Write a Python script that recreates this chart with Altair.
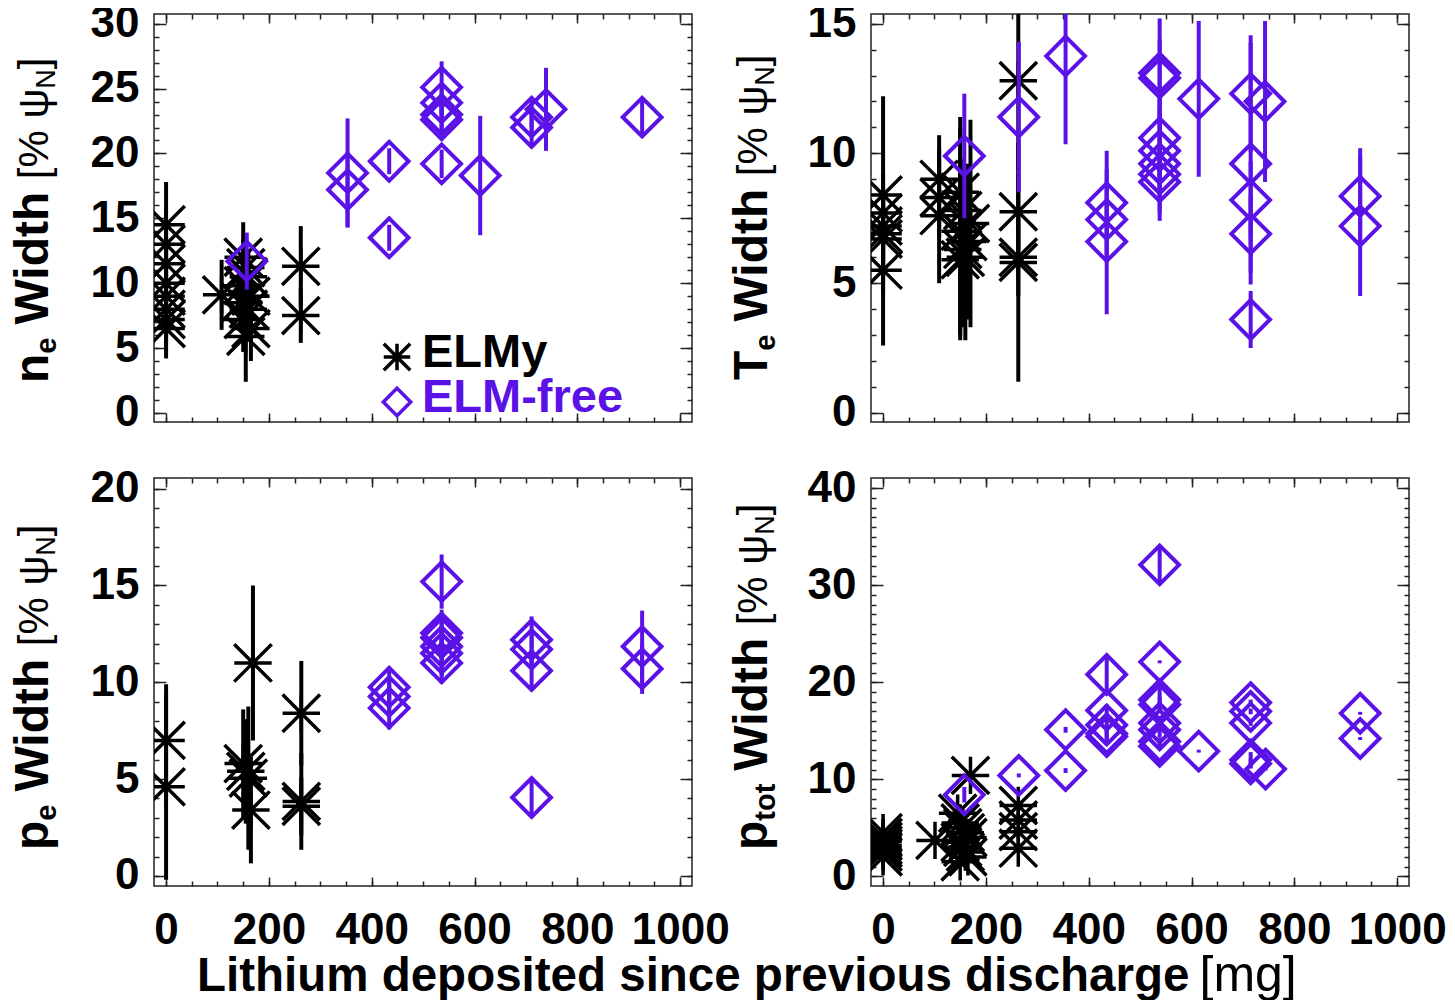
import altair as alt
import pandas as pd

PURPLE = "#5A12E6"
FONT = "Liberation Sans"
AST = "M-1,0L1,0M0,-1L0,1M-1,-1L1,1M-1,1L1,-1"
DIA = "M-1,0L0,-1L1,0L0,1Z"

X_DOMAIN = [-23.5, 1023]
X_MAJOR = [0, 200, 400, 600, 800, 1000]
X_MINOR = list(range(0, 1001, 50))

# ---------------- n_e width ----------------
ne_elmy_x = [0, 0, 0, 0, 0, 0, 0, 0, 108, 145, 150, 150, 155, 160, 160, 165, 150, 165, 155, 262, 262]
ne_elmy_y = [14.5, 13.0, 11.5, 10.0, 9.0, 8.0, 7.2, 6.5, 9.1, 8.5, 12.0, 9.8, 11.2, 10.5, 8.0, 9.0, 7.2, 6.5, 5.9, 11.3, 7.5]
ne_elmy_e = [3.3, 2.0, 2.0, 1.5, 2.0, 2.0, 2.0, 2.3, 2.7, 2.0, 2.7, 2.5, 2.5, 2.0, 2.5, 2.0, 2.5, 2.5, 3.5, 3.1, 2.1]
ne_free_x = [353, 353, 434, 434, 157, 536, 536, 536, 536, 536, 611, 711, 711, 739, 926]
ne_free_y = [18.5, 17.2, 19.4, 13.5, 11.7, 25.1, 23.9, 23.0, 22.6, 19.2, 18.3, 22.8, 22.0, 23.4, 22.8]
ne_free_e = [4.2, 2.9, 1.0, 1.0, 2.2, 2.0, 1.5, 1.2, 1.2, 1.1, 4.6, 1.4, 1.5, 3.2, 1.5]

# ---------------- T_e width ----------------
te_elmy_x = [0, 0, 0, 0, 0, 0, 109, 109, 109, 150, 155, 170, 150, 165, 155, 160, 150, 263, 263, 263, 263]
te_elmy_y = [8.4, 7.7, 7.2, 6.9, 6.7, 5.5, 9.0, 8.3, 7.6, 8.5, 7.8, 7.3, 7.0, 6.6, 6.3, 6.0, 5.9, 12.8, 7.75, 6.0, 5.8]
te_elmy_e = [3.8, 1.5, 1.5, 1.5, 1.5, 2.9, 1.7, 1.5, 2.6, 2.9, 2.0, 4.0, 4.0, 3.0, 3.0, 3.2, 3.1, 3.5, 1.5, 1.5, 4.6]
te_free_x = [158, 264, 355, 435, 435, 435, 538, 538, 538, 538, 538, 538, 538, 614, 715, 715, 715, 715, 715, 743, 928, 928]
te_free_y = [9.9, 11.4, 13.75, 8.1, 7.45, 6.6, 13.1, 12.9, 10.6, 10.1, 9.6, 9.2, 8.9, 12.1, 12.3, 9.6, 8.2, 6.9, 3.6, 12.0, 8.35, 7.2]
te_free_e = [2.4, 2.9, 3.4, 2.0, 1.5, 2.8, 2.1, 1.5, 1.5, 1.6, 1.5, 1.5, 1.5, 3.0, 2.25, 4.65, 1.5, 1.5, 1.1, 3.1, 1.85, 2.7]

# ---------------- p_e width ----------------
pe_elmy_x = [0, 0, 150, 155, 160, 165, 169, 263, 263, 263]
pe_elmy_y = [7.0, 4.6, 5.8, 5.4, 5.05, 3.4, 11.0, 8.4, 3.85, 3.6]
pe_elmy_e = [2.9, 4.8, 2.8, 2.7, 3.7, 2.75, 4.0, 2.7, 2.5, 1.5]
pe_free_x = [434, 434, 434, 536, 536, 536, 536, 536, 536, 711, 711, 711, 711, 926, 926]
pe_free_y = [9.75, 9.27, 8.67, 15.2, 12.55, 12.3, 11.85, 11.5, 11.0, 12.2, 11.7, 10.6, 4.05, 11.85, 10.7]
pe_free_e = [0.85, 0.9, 1.1, 1.4, 1.2, 1.0, 1.0, 1.2, 1.05, 1.2, 1.0, 0.9, 1.05, 1.85, 1.3]

# ---------------- p_tot width ----------------
pt_elmy_x = [0, 0, 0, 0, 0, 0, 0, 101, 145, 150, 155, 160, 165, 150, 155, 160, 165, 150, 170, 263, 263, 263, 263]
pt_elmy_y = [4.5, 4.0, 3.6, 3.2, 2.9, 2.5, 2.0, 3.7, 6.5, 5.5, 5.0, 4.5, 4.0, 3.5, 3.0, 2.5, 2.0, 1.5, 10.4, 7.3, 5.8, 4.6, 2.9]
pt_elmy_e = [0.3] * 23
pt_free_x = [158, 264, 355, 355, 435, 435, 435, 435, 435, 538, 538, 538, 538, 538, 538, 538, 538, 614, 715, 715, 715, 715, 715, 744, 928, 928]
pt_free_y = [8.4, 10.4, 15.1, 10.9, 20.8, 17.1, 15.6, 14.7, 14.4, 32.1, 22.1, 18.2, 17.7, 15.8, 15.1, 13.9, 13.4, 12.9, 17.9, 17.0, 15.8, 12.0, 11.6, 11.05, 16.8, 14.2]
pt_free_e = [0.8, 0.2, 0.3, 0.25, 1.8, 0.6, 0.8, 0.8, 0.6, 1.9, 0.15, 1.2, 0.8, 0.5, 0.8, 0.4, 0.3, 0.15, 0.3, 0.3, 0.3, 0.8, 0.5, 0.15, 0.15, 0.15]

BOLD_W = {' ': 0.278, 'n': 0.611, 'e': 0.556, 'W': 0.944, 'i': 0.278, 'd': 0.611, 't': 0.333,
          'h': 0.611, 'T': 0.611, 'p': 0.611, 'o': 0.611, 'L': 0.611, 'u': 0.611, 'm': 0.889,
          's': 0.556, 'c': 0.556, 'r': 0.389, 'v': 0.556, 'a': 0.556, 'g': 0.611}
REG_W = {' ': 0.278, '[': 0.278, '%': 0.889, 'ψ': 0.71, 'N': 0.722, ']': 0.278, 'm': 0.833, 'g': 0.556}


def text_width(txt, size, weight):
    table = BOLD_W if weight == "bold" else REG_W
    return sum(table.get(c, 0.6) for c in txt) * size


def axis(orient, values, L, labels=False, pad=0):
    return alt.Axis(orient=orient, values=values, tickSize=L, offset=-L, domain=False, grid=False,
                    ticks=True, labels=labels, title=None, tickColor="#222", tickWidth=1.5,
                    labelFont=FONT, labelFontSize=44, labelFontWeight="bold", labelColor="black",
                    labelPadding=pad, labelFlush=False, labelOverlap=False, format="d")


def frame(d):
    return pd.DataFrame({"x": d[0], "y": d[1],
                         "lo": [a - b for a, b in zip(d[1], d[2])],
                         "hi": [a + b for a, b in zip(d[1], d[2])]})


def text_layer(txt, size, weight, x, y, color="black", angle=0):
    return alt.Chart(pd.DataFrame({"t": [txt]})).mark_text(
        angle=angle, align="left", baseline="alphabetic", font=FONT, fontSize=size,
        fontWeight=weight, color=color).encode(text="t:N", x=alt.value(x), y=alt.value(y))


def vtitle(pieces, bx, y0):
    layers = []
    pos = y0
    for txt, size, weight, shift, gap in pieces:
        pos -= gap
        layers.append(text_layer(txt, size, weight, bx + shift, pos, angle=270))
        pos -= text_width(txt, size, weight)
    return layers


def title_pieces(main, sub):
    return [(main, 48, "bold", 0, 0),
            (sub, 29, "bold", 8, 0),
            ("Width", 48, "bold", 0, 13),
            ("[% ψ", 42, "normal", 0, 12),
            ("N", 27, "normal", 7, 0),
            ("]", 42, "normal", 0, 0)]


def panel(elmy, free, ydom, ymaj, ymin, xlabels, extra):
    de, df = frame(elmy), frame(free)
    xs = alt.Scale(domain=X_DOMAIN, nice=False, zero=False)
    ys = alt.Scale(domain=ydom, nice=False, zero=False)
    bars_e = alt.Chart(de).mark_rule(color="black", strokeWidth=4, clip=True).encode(
        x=alt.X("x:Q", scale=xs, axis=axis("bottom", X_MAJOR, 9, xlabels, 22)),
        y=alt.Y("lo:Q", scale=ys, axis=axis("left", ymaj, 12, True, 15)),
        y2="hi:Q")
    pts_e = alt.Chart(de).mark_point(shape=AST, size=1400, strokeWidth=3.5, filled=False,
                                     color="black", opacity=1, clip=True).encode(
        x=alt.X("x:Q", scale=xs, axis=axis("bottom", X_MINOR, 5)),
        y=alt.Y("y:Q", scale=ys, axis=axis("left", ymin, 5)))
    bars_f = alt.Chart(df).mark_rule(color=PURPLE, strokeWidth=4, clip=True).encode(
        x=alt.X("x:Q", scale=xs, axis=axis("top", X_MAJOR, 9)),
        y=alt.Y("lo:Q", scale=ys, axis=axis("right", ymaj, 12)),
        y2="hi:Q")
    pts_f = alt.Chart(df).mark_point(shape=DIA, size=1500, strokeWidth=4, filled=False,
                                     color=PURPLE, opacity=1, clip=True).encode(
        x=alt.X("x:Q", scale=xs, axis=axis("top", X_MINOR, 5)),
        y=alt.Y("y:Q", scale=ys, axis=axis("right", ymin, 5)))
    return alt.layer(bars_e, pts_e, bars_f, pts_f, *extra).resolve_axis(
        x="independent", y="independent").properties(width=538, height=408)


legend = [
    alt.Chart(pd.DataFrame({"k": ["ELMy"]})).mark_point(shape=AST, size=700, strokeWidth=3.5, filled=False,
                                                         color="black", opacity=1).encode(
        x=alt.value(243), y=alt.value(343)),
    alt.Chart(pd.DataFrame({"k": ["ELM-free"]})).mark_point(shape=DIA, size=750, strokeWidth=3.5, filled=False,
                                                             color=PURPLE, opacity=1).encode(
        x=alt.value(243), y=alt.value(388)),
    text_layer("ELMy", 47, "bold", 268, 353),
    text_layer("ELM-free", 47, "bold", 268, 398, color=PURPLE),
]

xt_bold = "Lithium deposited since previous discharge"
xt_w = text_width(xt_bold, 47.5, "bold")
xtitle = [text_layer(xt_bold, 47.5, "bold", 43, 513),
          text_layer("[mg]", 50, "normal", 43 + xt_w + 10, 513)]

p1 = panel((ne_elmy_x, ne_elmy_y, ne_elmy_e), (ne_free_x, ne_free_y, ne_free_e),
           [-0.7, 30.75], list(range(0, 31, 5)), list(range(0, 31)), False,
           vtitle(title_pieces("n", "e"), -106, 369) + legend)
p2 = panel((te_elmy_x, te_elmy_y, te_elmy_e), (te_free_x, te_free_y, te_free_e),
           [-0.35, 15.37], list(range(0, 16, 5)), list(range(0, 16)), False,
           vtitle(title_pieces("T", "e"), -104, 366))
p3 = panel((pe_elmy_x, pe_elmy_y, pe_elmy_e), (pe_free_x, pe_free_y, pe_free_e),
           [-0.52, 20.55], list(range(0, 21, 5)), list(range(0, 21)), True,
           vtitle(title_pieces("p", "e"), -106, 372) + xtitle)
p4 = panel((pt_elmy_x, pt_elmy_y, pt_elmy_e), (pt_free_x, pt_free_y, pt_free_e),
           [-1.0, 41.05], list(range(0, 41, 10)), list(range(0, 41)), True,
           vtitle(title_pieces("p", "tot"), -104, 372))

chart = alt.concat(p1, p2, p3, p4, columns=2, spacing={"row": 56, "column": 179}, bounds="flush").properties(
    autosize=alt.AutoSizeParams(type="none"),
    padding={"left": 146, "top": 6, "right": 1293, "bottom": 986},
).configure_view(stroke="#222", strokeWidth=1.5)

chart.save("out.html", embed_options={"renderer": "svg", "actions": False})
